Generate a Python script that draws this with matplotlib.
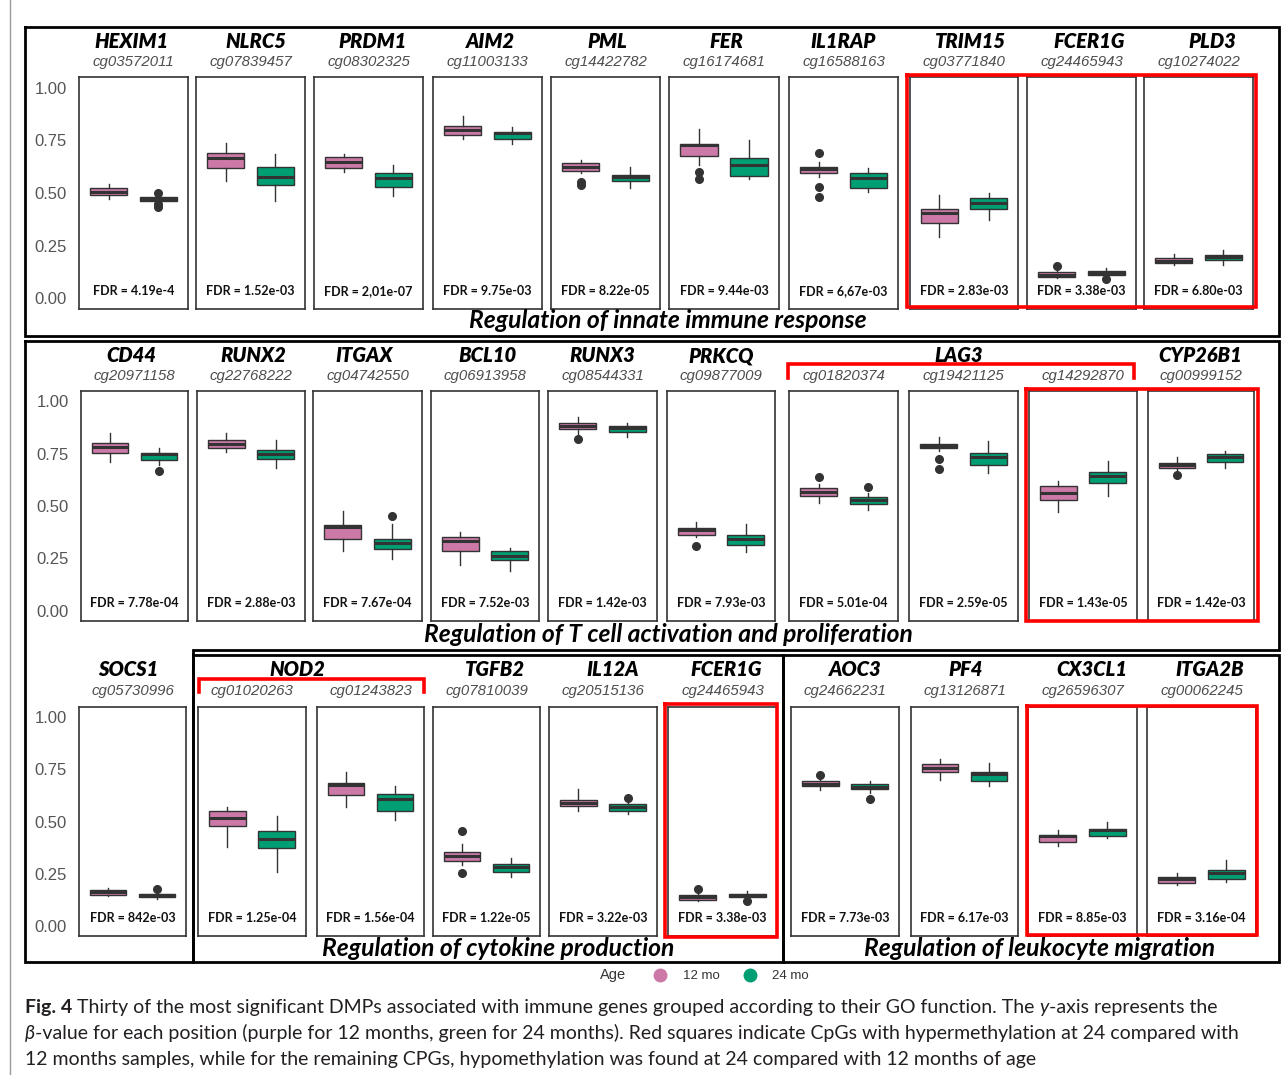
#!/usr/bin/env python3
"""
Boxplots of beta-values for 30 immune-gene DMPs at 12 and 24 months,
grouped by GO function, with the figure caption underneath.
"""

import matplotlib
matplotlib.use('Agg')
import matplotlib.pyplot as plt

W, H = 1281, 1075

# ---------------------------------------------------------------- data
genes = ['HEXIM1', 'NLRC5', 'PRDM1', 'AIM2', 'PML', 'FER', 'IL1RAP', 'TRIM15', 'FCER1G', 'PLD3',
         'CD44', 'RUNX2', 'ITGAX', 'BCL10', 'RUNX3', 'PRKCQ', 'LAG3', 'LAG3', 'LAG3', 'CYP26B1',
         'SOCS1', 'NOD2', 'NOD2', 'TGFB2', 'IL12A', 'FCER1G', 'AOC3', 'PF4', 'CX3CL1', 'ITGA2B']

cpgs = ['cg03572011', 'cg07839457', 'cg08302325', 'cg11003133', 'cg14422782',
        'cg16174681', 'cg16588163', 'cg03771840', 'cg24465943', 'cg10274022',
        'cg20971158', 'cg22768222', 'cg04742550', 'cg06913958', 'cg08544331',
        'cg09877009', 'cg01820374', 'cg19421125', 'cg14292870', 'cg00999152',
        'cg05730996', 'cg01020263', 'cg01243823', 'cg07810039', 'cg20515136',
        'cg24465943', 'cg24662231', 'cg13126871', 'cg26596307', 'cg00062245']

fdr_labels = ['FDR = 4.19e-4', 'FDR = 1.52e-03', 'FDR = 2,01e-07', 'FDR = 9.75e-03', 'FDR = 8.22e-05',
              'FDR = 9.44e-03', 'FDR = 6,67e-03', 'FDR = 2.83e-03', 'FDR = 3.38e-03', 'FDR = 6.80e-03',
              'FDR = 7.78e-04', 'FDR = 2.88e-03', 'FDR = 7.67e-04', 'FDR = 7.52e-03', 'FDR = 1.42e-03',
              'FDR = 7.93e-03', 'FDR = 5.01e-04', 'FDR = 2.59e-05', 'FDR = 1.43e-05', 'FDR = 1.42e-03',
              'FDR = 842e-03', 'FDR = 1.25e-04', 'FDR = 1.56e-04', 'FDR = 1.22e-05', 'FDR = 3.22e-03',
              'FDR = 3.38e-03', 'FDR = 7.73e-03', 'FDR = 6.17e-03', 'FDR = 8.85e-03', 'FDR = 3.16e-04']

# 12 month group: whisker low, Q1, median, Q3, whisker high, outliers
lo_12 = [.472, .557, .598, .755, .593, .635, .577, .291, .098, .157,
         .711, .759, .287, .219, .843, .351, .514, .763, .470, .673,
         .143, .376, .568, .292, .552, .120, .651, .698, .384, .195]
q1_12 = [.491, .617, .617, .777, .604, .676, .593, .357, .102, .168,
         .752, .778, .340, .287, .867, .362, .549, .775, .529, .683,
         .148, .476, .629, .311, .575, .123, .670, .736, .400, .206]
med_12 = [.506, .664, .648, .797, .624, .726, .613, .404, .113, .179,
          .784, .795, .398, .333, .883, .387, .568, .786, .562, .697,
          .159, .516, .676, .336, .591, .135, .682, .756, .431, .222]
q3_12 = [.524, .692, .671, .817, .640, .734, .624, .425, .126, .192,
         .800, .816, .410, .351, .895, .397, .586, .795, .594, .708,
         .170, .552, .686, .355, .604, .148, .693, .777, .437, .233]
hi_12 = [.541, .739, .687, .865, .656, .802, .648, .491, .130, .211,
         .848, .848, .478, .378, .927, .425, .605, .832, .621, .732,
         .182, .572, .736, .392, .654, .152, .709, .799, .458, .253]
out_12 = [[], [], [], [], [.553, .540], [.601, .566], [.690, .530, .483], [], [.152], [],
          [], [], [], [], [.822], [.308], [.641], [.724, .676], [], [.648],
          [], [], [], [.453, .253], [], [.175], [.725], [], [], []]

# 24 month group
lo_24 = [.455, .462, .487, .730, .522, .566, .506, .373, .108, .160,
         .695, .680, .248, .187, .832, .279, .482, .660, .549, .680,
         .127, .258, .509, .233, .536, .130, .638, .670, .423, .211]
q1_24 = [.462, .538, .530, .755, .557, .582, .525, .425, .113, .184,
         .721, .727, .295, .243, .854, .314, .510, .695, .610, .711,
         .135, .371, .549, .258, .550, .135, .657, .693, .431, .225]
med_24 = [.473, .577, .569, .786, .574, .632, .572, .451, .123, .196,
          .748, .748, .324, .263, .875, .340, .529, .732, .644, .732,
          .145, .415, .610, .280, .569, .145, .667, .730, .458, .253]
q3_24 = [.483, .624, .593, .790, .585, .664, .593, .478, .132, .208,
         .752, .768, .343, .284, .883, .363, .544, .752, .663, .748,
         .154, .453, .630, .296, .582, .154, .678, .736, .466, .266]
hi_24 = [.490, .687, .635, .813, .624, .750, .619, .498, .145, .231,
         .775, .816, .414, .298, .895, .414, .562, .811, .716, .763,
         .162, .525, .670, .324, .591, .164, .693, .783, .497, .316]
out_24 = [[.502, .447, .435], [], [], [], [], [], [], [], [.094], [],
          [.668], [], [.451], [], [], [], [.592], [], [], [],
          [.175], [], [], [], [.615], [.117], [.610], [], [], []]

y_ticks = [0, 0.25, 0.5, 0.75, 1.0]
y_tick_labels = ['0.00', '0.25', '0.50', '0.75', '1.00']

section_titles = ['Regulation of innate immune response',
                  'Regulation of T cell activation and proliferation',
                  'Regulation of cytokine production',
                  'Regulation of leukocyte migration']

age_labels = ['12 mo', '24 mo']

# ---------------------------------------------------------------- layout (pixels)
panel_x = [(79, 188), (196, 305), (314, 423), (433, 542), (551, 660),
           (669, 779), (789, 898), (910, 1018), (1027, 1136), (1144, 1253),
           (81, 188), (197, 305), (313, 422), (431, 539), (548, 657),
           (667, 775), (789, 898), (909, 1018), (1029, 1137), (1148, 1254),
           (79, 186), (198, 306), (317, 424), (433, 540), (549, 657),
           (668, 777), (791, 899), (911, 1018), (1028, 1137), (1147, 1256)]
row_y = [(77, 309), (391, 621), (707, 936)]
gene_y = [41, 356, 670]
cpg_y = [62, 376, 691]

# one title per gene, some span several CpG panels
title_idx = [0, 1, 2, 3, 4, 5, 6, 7, 8, 9,
             10, 11, 12, 13, 14, 15, 16, 19,
             20, 21, 23, 24, 25, 26, 27, 28, 29]
title_x = [131, 256, 373, 490, 607, 726, 843, 970, 1089, 1212,
           131, 253, 364, 487, 602, 721, 959, 1200,
           128, 297, 495, 613, 726, 855, 966, 1092, 1210]
section_xy = [(668, 321), (668, 634), (498, 948), (1040, 948)]

C12 = '#CC79A7'
C24 = '#009E73'
EDGE = '#333333'
RED = '#FF0000'

TITLE_FONT = ['Lato', 'DejaVu Sans']
ARIAL = ['Liberation Sans', 'DejaVu Sans']

fig = plt.figure(figsize=(W / 100, H / 100), dpi=100)
fig.patch.set_facecolor('white')


def stats(i, lo, q1, med, q3, hi, out):
    return dict(whislo=lo[i], q1=q1[i], med=med[i], q3=q3[i], whishi=hi[i], fliers=out[i])


for i in range(30):
    row = i // 10
    l, r = panel_x[i]
    t, b = row_y[row]
    ax = fig.add_axes([l / W, 1 - b / H, (r - l) / W, (b - t) / H])
    bp = ax.bxp([stats(i, lo_12, q1_12, med_12, q3_12, hi_12, out_12),
                 stats(i, lo_24, q1_24, med_24, q3_24, hi_24, out_24)],
                positions=[1, 2], widths=0.75, patch_artist=True, showcaps=False,
                boxprops=dict(edgecolor=EDGE, linewidth=1.0),
                medianprops=dict(color=EDGE, linewidth=2.2, solid_capstyle='butt'),
                whiskerprops=dict(color=EDGE, linewidth=1.0),
                flierprops=dict(marker='o', markerfacecolor=EDGE, markeredgecolor=EDGE,
                                markersize=5.5))
    bp['boxes'][0].set_facecolor(C12)
    bp['boxes'][1].set_facecolor(C24)

    ax.set_xlim(0.4, 2.6)
    ax.set_ylim(-0.05, 1.05)
    ax.set_xticks([])
    for s in ax.spines.values():
        s.set_color(EDGE)
        s.set_linewidth(1.2)
    if i % 10 == 0:
        ax.set_yticks(y_ticks)
        ax.set_yticklabels(y_tick_labels, family=ARIAL)
        ax.tick_params(axis='y', length=0, pad=9, labelsize=12, labelcolor='#555555')
    else:
        ax.set_yticks([])

    ax.text(0.5, 0.035, fdr_labels[i], transform=ax.get_yaxis_transform(),
            ha='center', va='center', fontsize=9, fontweight='bold',
            family=TITLE_FONT, color='#111111')

# ---------------------------------------------------------------- overlay: titles, frames
ov = fig.add_axes([0, 0, 1, 1])
ov.set_xlim(0, W)
ov.set_ylim(H, 0)
ov.axis('off')
ov.patch.set_alpha(0)
ov.set_zorder(10)

for i in range(30):
    row = i // 10
    l, r = panel_x[i]
    ov.text((l + r) / 2, cpg_y[row], cpgs[i], ha='center', va='center', fontsize=10.8,
            style='italic', family=ARIAL, color='#4d4d4d')

for k, i in enumerate(title_idx):
    ov.text(title_x[k], gene_y[i // 10], genes[i], ha='center', va='center', fontsize=14.5,
            fontweight='heavy', style='italic', family=TITLE_FONT, color='black')

for (x, y), s in zip(section_xy, section_titles):
    ov.text(x, y, s, ha='center', va='center', fontsize=17.7, fontweight='bold',
            style='italic', family=TITLE_FONT, color='black')


def poly(pts, color, lw):
    xs = [p[0] for p in pts]
    ys = [p[1] for p in pts]
    ov.plot(xs, ys, color=color, linewidth=lw, solid_joinstyle='miter')


def rect(x0, y0, x1, y1, color, lw):
    poly([(x0, y0), (x1, y0), (x1, y1), (x0, y1), (x0, y0)], color, lw)


# group frames
rect(25, 27, 1279, 336, 'black', 2.0)
poly([(25, 341), (1279, 341), (1279, 650), (193, 650), (193, 962), (25, 962), (25, 341)],
     'black', 2.0)
rect(193, 655, 783, 962, 'black', 2.0)
rect(783, 655, 1279, 962, 'black', 2.0)

# hypermethylated CpGs and multi-CpG brackets
rect(907, 75, 1256, 307, RED, 2.6)
rect(1026, 389, 1258, 621, RED, 2.6)
rect(665, 704, 777, 937, RED, 2.6)
rect(1027, 706, 1257, 935, RED, 2.6)
poly([(788, 378), (788, 364), (1134, 364), (1134, 378)], RED, 2.6)
poly([(199, 692), (199, 679), (424, 679), (424, 692)], RED, 2.6)

# caption rule
ov.plot([10, 10], [0, H], color='#9a9a9a', linewidth=1.0)

# legend
ov.text(613, 975, 'Age', ha='center', va='center', fontsize=10.5, family=ARIAL, color='#333333')
ov.plot([660], [975], 'o', color=C12, markersize=9)
ov.text(683, 976, age_labels[0], ha='left', va='center', fontsize=9.5, family=ARIAL, color='#333333')
ov.plot([750], [975], 'o', color=C24, markersize=9)
ov.text(772, 976, age_labels[1], ha='left', va='center', fontsize=9.5, family=ARIAL, color='#333333')

# ---------------------------------------------------------------- caption
CAP_FONT = ['Lato', 'DejaVu Sans']
renderer = fig.canvas.get_renderer()
caption = [
    [('Fig. 4', 'bold', 'normal', 1), ('Thirty of the most significant DMPs associated with immune genes '
      'grouped according to their GO function. The', 'normal', 'normal', 1),
     ('y', 'normal', 'italic', 0), ('-axis represents the', 'normal', 'normal', 0)],
    [('\u03b2', 'normal', 'italic', 0), ('-value for each position (purple for 12 months, green for 24 '
      'months). Red squares indicate CpGs with hypermethylation at 24 compared with', 'normal', 'normal', 0)],
    [('12 months samples, while for the remaining CPGs, hypomethylation was found at 24 compared '
      'with 12 months of age', 'normal', 'normal', 0)],
]


def seg_width(s, weight, style, size):
    t = ov.text(0, 0, s, fontsize=size, fontweight=weight, style=style, family=CAP_FONT)
    w = t.get_window_extent(renderer).width
    t.remove()
    return w


base = 12.0
space = seg_width('n n', 'normal', 'normal', base) - seg_width('nn', 'normal', 'normal', base)
line1 = 0
for s, wt, st, gap in caption[0]:
    line1 += seg_width(s, wt, st, base)
line1 += space * 2  # gaps after 'Fig. 4' and before 'y'
cap_size = base * (1213 - 25) / line1
space *= cap_size / base

for y, segs in zip([1007, 1033, 1059], caption):
    x = 25
    for s, wt, st, gap in segs:
        t = ov.text(x, y, s, ha='left', va='center', fontsize=cap_size, fontweight=wt, style=st,
                    family=CAP_FONT, color='#231f20')
        x = t.get_window_extent(renderer).x1
        if gap:
            x += space

plt.savefig('out.png', dpi=100)
